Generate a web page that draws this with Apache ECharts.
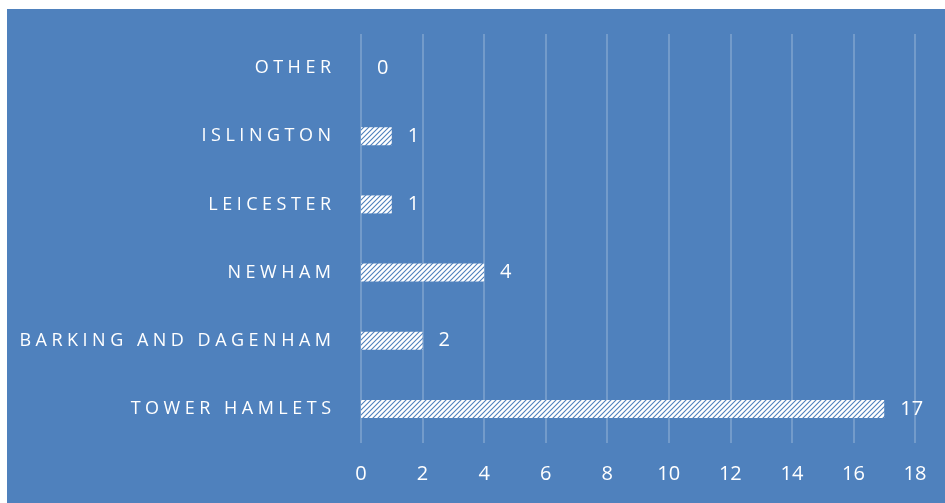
<!DOCTYPE html>
<html>
<head>
<meta charset="utf-8">
<script src="https://cdn.jsdelivr.net/npm/echarts@6/dist/echarts.min.js"></script>
<style>
  html, body { margin: 0; padding: 0; background: #fff; }
  #main { position: absolute; left: 7px; top: 9px; width: 938px; height: 494px; }
</style>
</head>
<body>
<div id="main"></div>
<script>
// data, bottom to top
const areas = ['Tower Hamlets', 'Barking and Dagenham', 'Newham', 'Leicester', 'Islington', 'Other'];
const counts = [17, 2, 4, 1, 1, 0];
const ticks = [0, 2, 4, 6, 8, 10, 12, 14, 16, 18];

const blue = '#4F81BD';

// hatch fill for the bars
function hatch() {
  const c = document.createElement('canvas');
  c.width = 5; c.height = 5;
  const g = c.getContext('2d');
  g.fillStyle = '#ffffff';
  g.fillRect(0, 0, 5, 5);
  g.strokeStyle = blue;
  g.lineWidth = 1.1;
  g.beginPath();
  g.moveTo(-1, 6); g.lineTo(6, -1);
  g.moveTo(-1, 1); g.lineTo(1, -1);
  g.moveTo(4, 6); g.lineTo(6, 4);
  g.stroke();
  return c;
}

// spaced caps like the original
function spaced(s) {
  return s.toUpperCase().split('').join('\u2005');
}

var chart = echarts.init(document.getElementById('main'));
chart.setOption({
  backgroundColor: blue,
  animation: false,
  textStyle: { fontFamily: 'Open Sans' },
  grid: { left: 354, right: 30, top: 25, bottom: 60 },
  xAxis: {
    type: 'value',
    min: 0,
    max: 18,
    interval: 2,
    axisLine: { show: false },
    axisTick: { show: false },
    splitLine: { lineStyle: { color: 'rgba(255,255,255,0.28)', width: 1.5 } },
    axisLabel: {
      color: '#fff', fontSize: 20, margin: 21,
      formatter: function (v) { return ticks.indexOf(v) >= 0 ? String(v) : ''; }
    }
  },
  yAxis: {
    type: 'category',
    data: areas,
    axisLine: { show: false },
    axisTick: { show: false },
    splitLine: { show: false },
    axisLabel: {
      color: '#fff', fontSize: 18, margin: 30,
      formatter: function (v) { return spaced(v); }
    }
  },
  series: [{
    type: 'bar',
    data: counts,
    barWidth: 18,
    itemStyle: { color: { image: hatch(), repeat: 'repeat' } },
    label: {
      show: true,
      position: 'right',
      distance: 16,
      color: '#fff',
      fontSize: 20
    }
  }]
});
</script>
</body>
</html>
